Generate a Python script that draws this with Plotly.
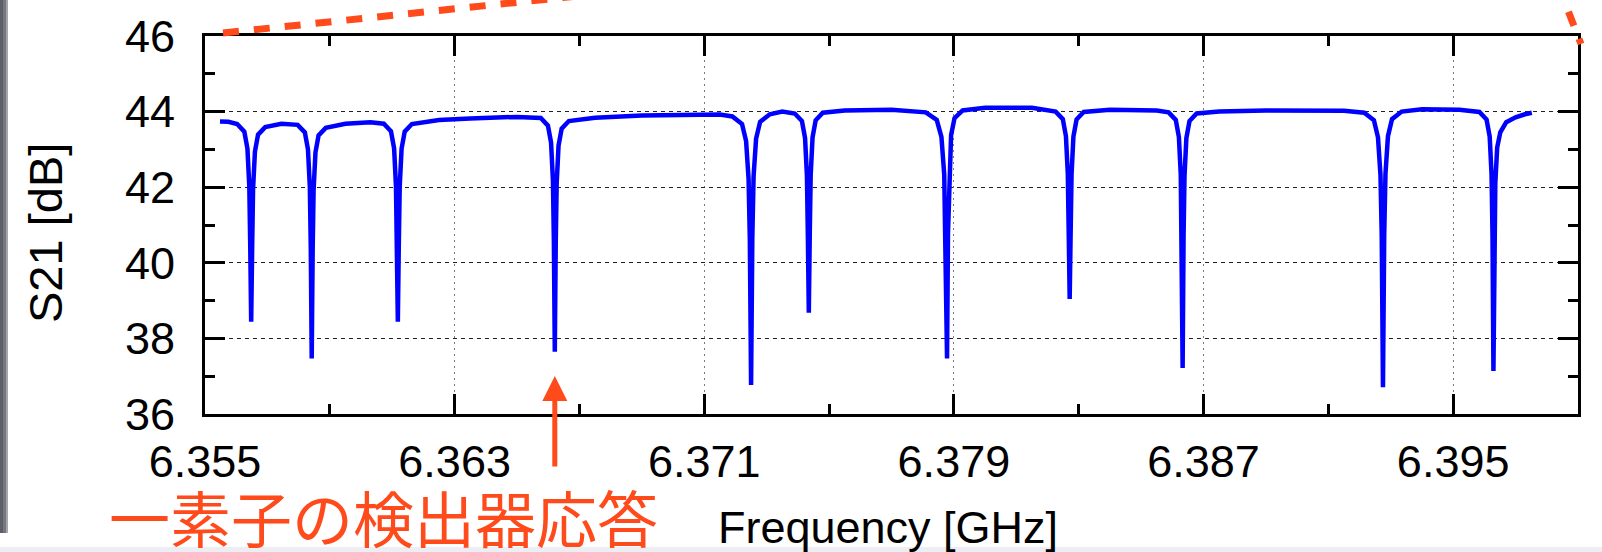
import plotly.graph_objects as go

# ---- data ----
freq_ghz = [
    6.35548, 6.35575,
    6.35603, 6.35626, 6.35636, 6.35642, 6.35645, 6.35648, 6.35651, 6.35654, 6.35660, 6.35670, 6.35693,
    6.35745,
    6.35797, 6.35820, 6.35830, 6.35836, 6.35839, 6.35842, 6.35845, 6.35848, 6.35854, 6.35864, 6.35887,
    6.35950, 6.36030,
    6.36073, 6.36096, 6.36106, 6.36112, 6.36115, 6.36118, 6.36121, 6.36124, 6.36130, 6.36140, 6.36163,
    6.36250, 6.36350, 6.36500,
    6.36576, 6.36599, 6.36609, 6.36615, 6.36618, 6.36621, 6.36624, 6.36627, 6.36633, 6.36643, 6.36666,
    6.36750, 6.36900, 6.37050, 6.37150,
    6.37190, 6.37221, 6.37234, 6.37242, 6.37246, 6.37250, 6.37254, 6.37258, 6.37266, 6.37279, 6.37310,
    6.37350,
    6.37390, 6.37413, 6.37423, 6.37429, 6.37432, 6.37435, 6.37438, 6.37441, 6.37447, 6.37457, 6.37480,
    6.37550, 6.37700,
    6.37810, 6.37845, 6.37860, 6.37869, 6.37873, 6.37878, 6.37881, 6.37885, 6.37891, 6.37902, 6.37928,
    6.38000, 6.38150,
    6.38226, 6.38249, 6.38259, 6.38265, 6.38268, 6.38271, 6.38274, 6.38277, 6.38283, 6.38293, 6.38316,
    6.38400, 6.38550,
    6.38588, 6.38611, 6.38621, 6.38627, 6.38630, 6.38633, 6.38636, 6.38639, 6.38645, 6.38655, 6.38678,
    6.38750, 6.38900, 6.39050, 6.39150,
    6.39215, 6.39246, 6.39259, 6.39267, 6.39271, 6.39275, 6.39279, 6.39283, 6.39291, 6.39304, 6.39335,
    6.39400, 6.39520,
    6.39584, 6.39607, 6.39617, 6.39623, 6.39626, 6.39629, 6.39632, 6.39635, 6.39641, 6.39651, 6.39670,
    6.39700, 6.39730, 6.39752,
]
s21_db = [
    43.74, 43.73,
    43.67, 43.47, 43.02, 42.02, 40.42, 38.44, 40.34, 41.94, 42.94, 43.39, 43.59,
    43.68,
    43.65, 43.45, 43.00, 42.00, 40.40, 37.47, 40.32, 41.92, 42.92, 43.37, 43.57,
    43.68, 43.72,
    43.68, 43.48, 43.03, 42.03, 40.43, 38.44, 40.42, 42.02, 43.02, 43.47, 43.67,
    43.78, 43.82, 43.86,
    43.83, 43.63, 43.18, 42.18, 40.58, 37.65, 40.50, 42.10, 43.10, 43.55, 43.75,
    43.84, 43.90, 43.93, 43.92,
    43.87, 43.67, 43.22, 42.22, 40.62, 36.77, 40.68, 42.28, 43.28, 43.73, 43.93,
    44.00,
    43.95, 43.75, 43.30, 42.30, 40.70, 38.68, 40.72, 42.32, 43.32, 43.77, 43.97,
    44.03, 44.05,
    43.98, 43.78, 43.33, 42.33, 40.73, 37.47, 40.78, 42.38, 43.38, 43.83, 44.03,
    44.10, 44.10,
    44.00, 43.80, 43.35, 42.35, 40.75, 39.04, 40.74, 42.34, 43.34, 43.79, 43.99,
    44.05, 44.03,
    43.98, 43.78, 43.33, 42.33, 40.73, 37.22, 40.70, 42.30, 43.30, 43.75, 43.95,
    44.00, 44.03, 44.04, 44.02,
    43.97, 43.77, 43.32, 42.32, 40.72, 36.71, 40.75, 42.35, 43.35, 43.80, 44.00,
    44.06, 44.05,
    43.99, 43.79, 43.34, 42.34, 40.74, 37.14, 40.55, 42.10, 43.05, 43.45, 43.72,
    43.85, 43.93, 43.97,
]

x_tick_vals = [6.355, 6.363, 6.371, 6.379, 6.387, 6.395]
x_tick_text = ["6.355", "6.363", "6.371", "6.379", "6.387", "6.395"]
y_tick_vals = [36, 38, 40, 42, 44, 46]
y_tick_text = ["36", "38", "40", "42", "44", "46"]
x_range = [6.355, 6.399]
y_range = [36, 46]
arrow_target_ghz = 6.36621  # the single-element resonance that the arrow marks

x_title = "Frequency [GHz]"
y_title = "S21 [dB]"
note_text = "一素子の検出器応答"

# ---- page geometry (pixels) ----
W, H = 1602, 552
L, R, T, B = 205, 1578, 36, 414
ORANGE = "#ff4a1c"


def px(xp):
    return (xp - L) / (R - L)


def py(yp):
    return (B - yp) / (B - T)


fig = go.Figure()
fig.add_trace(go.Scatter(
    x=freq_ghz, y=s21_db, mode="lines",
    line=dict(color="#0000ff", width=4.5),
    showlegend=False, hoverinfo="skip",
))

tick_font = dict(family="Liberation Sans, Arial, sans-serif", size=45, color="black")

fig.update_xaxes(
    range=x_range, tickmode="array", tickvals=x_tick_vals, ticktext=x_tick_text,
    ticks="inside", ticklen=20, tickwidth=3, tickcolor="black",
    showline=True, linewidth=3, linecolor="black", mirror="ticks",
    showgrid=True, gridcolor="#7a7a7a", gridwidth=1.2, griddash="2px,4px",
    zeroline=False, tickfont=tick_font, ticklabelstandoff=6,
    minor=dict(tickmode="linear", tick0=6.355, dtick=0.004, ticks="inside",
               ticklen=10, tickwidth=3, tickcolor="black", showgrid=False),
)
fig.update_yaxes(
    range=y_range, tickmode="array", tickvals=y_tick_vals, ticktext=y_tick_text,
    ticks="inside", ticklen=20, tickwidth=3, tickcolor="black",
    showline=True, linewidth=3, linecolor="black", mirror="ticks",
    showgrid=True, gridcolor="#222222", gridwidth=1, griddash="4px,4px",
    zeroline=False, tickfont=tick_font, ticklabelstandoff=18,
    minor=dict(tickmode="linear", tick0=36, dtick=1, ticks="inside",
               ticklen=10, tickwidth=3, tickcolor="black", showgrid=False),
)

shapes = [
    # dark strip on the left edge of the slide
    dict(type="rect", xref="paper", yref="paper", x0=px(0), x1=px(3), y0=py(533), y1=py(0),
         line=dict(width=0), fillcolor="#5c5f65", layer="above"),
    dict(type="rect", xref="paper", yref="paper", x0=px(3), x1=px(6), y0=py(533), y1=py(0),
         line=dict(width=0), fillcolor="#74777d", layer="above"),
    dict(type="rect", xref="paper", yref="paper", x0=px(6), x1=px(8), y0=py(533), y1=py(0),
         line=dict(width=0), fillcolor="#a3a6ab", layer="above"),
    # light band at the bottom of the slide
    dict(type="rect", xref="paper", yref="paper", x0=px(0), x1=px(W), y0=py(H + 2), y1=py(547),
         line=dict(width=0), fillcolor="#eceef3", layer="above"),
    # orange dashed zoom-callout lines
    dict(type="line", xref="paper", yref="paper", x0=px(223), y0=py(33), x1=px(760), y1=py(-23),
         line=dict(color=ORANGE, width=7, dash="16px,15px"), layer="above"),
    dict(type="line", xref="paper", yref="paper", x0=px(1558), y0=py(-15.3), x1=px(1581), y1=py(44),
         line=dict(color=ORANGE, width=7, dash="15px,14px"), layer="above"),
]
fig.update_layout(shapes=shapes)

annotations = [
    dict(text=y_title, xref="paper", yref="paper", x=px(45), y=py(233), textangle=-90,
         showarrow=False, xanchor="center", yanchor="middle",
         font=dict(family="Liberation Sans, Arial, sans-serif", size=47, color="black")),
    dict(text=x_title, xref="paper", yref="paper", x=px(888), y=py(527),
         showarrow=False, xanchor="center", yanchor="middle",
         font=dict(family="Liberation Sans, Arial, sans-serif", size=45, color="black")),
    dict(text=note_text, xref="paper", yref="paper", x=px(107), y=py(516),
         showarrow=False, xanchor="left", yanchor="middle",
         font=dict(family="Noto Sans CJK JP, sans-serif", size=61, color=ORANGE)),
    dict(text="", x=arrow_target_ghz, xref="x", y=py(376), yref="paper",
         showarrow=True, ax=0, ay=92, arrowhead=2, arrowsize=1, arrowwidth=5,
         arrowcolor=ORANGE, standoff=0),
]
fig.update_layout(annotations=annotations)

fig.update_layout(
    width=W, height=H,
    margin=dict(l=L, r=W - R, t=T, b=H - B, pad=0),
    paper_bgcolor="white", plot_bgcolor="white",
    showlegend=False,
)

fig.write_html("out.html", config={"displayModeBar": False})
